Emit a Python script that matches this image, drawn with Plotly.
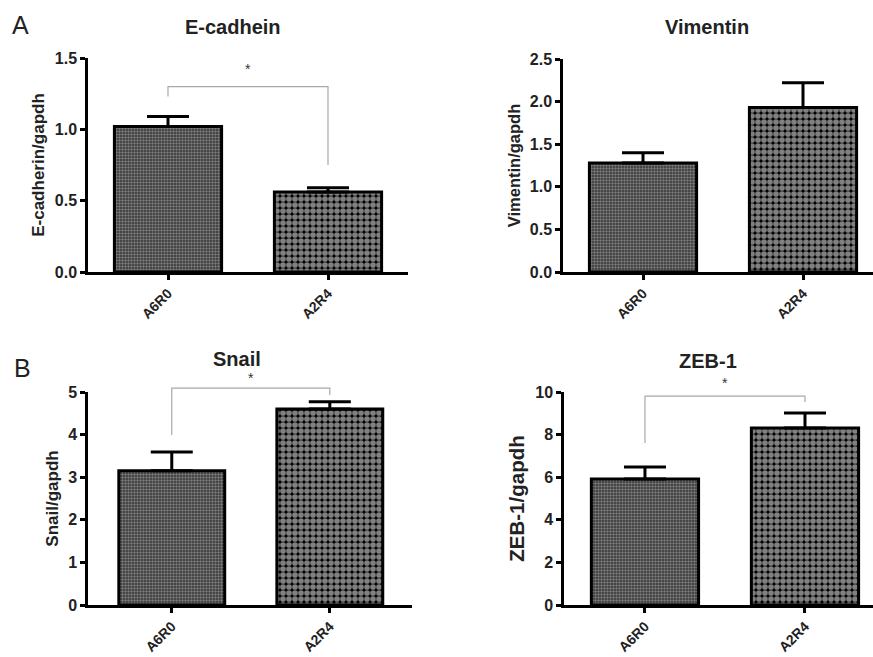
import plotly.graph_objects as go

# ---------------- data ----------------
categories = ["A6R0", "A2R4"]

ecad_mean = [1.02, 0.56]
ecad_err = [0.07, 0.03]
vim_mean = [1.28, 1.93]
vim_err = [0.12, 0.29]
snail_mean = [3.15, 4.60]
snail_err = [0.44, 0.17]
zeb_mean = [5.92, 8.31]
zeb_err = [0.56, 0.70]

ecad_ticks = [0.0, 0.5, 1.0, 1.5]
vim_ticks = [0.0, 0.5, 1.0, 1.5, 2.0, 2.5]
snail_ticks = [0, 1, 2, 3, 4, 5]
zeb_ticks = [0, 2, 4, 6, 8, 10]

# significance brackets: [left leg bottom, bar top, right leg bottom, star level]
ecad_sig = [1.23, 1.30, 0.75, 1.42]
snail_sig = [3.99, 5.09, 4.93, 5.33]
zeb_sig = [7.6, 9.81, 9.53, 10.4]

titles = ["E-cadhein", "Vimentin", "Snail", "ZEB-1"]
ytitles = ["E-cadherin/gapdh", "Vimentin/gapdh", "Snail/gapdh", "ZEB-1/gapdh"]

W, H = 873, 657
FONT = "Liberation Sans, Arial, sans-serif"

panels = [
    dict(mean=ecad_mean, err=ecad_err, ticks=ecad_ticks, sig=ecad_sig, fmt=".1f",
         px=(88, 408), py=(272, 58), xr=(-0.5, 1.5), title_px=(233, 27), yts=17),
    dict(mean=vim_mean, err=vim_err, ticks=vim_ticks, sig=None, fmt=".1f",
         px=(563, 873), py=(272, 59), xr=(-0.5, 1.4375), title_px=(707, 27), yts=16.5),
    dict(mean=snail_mean, err=snail_err, ticks=snail_ticks, sig=snail_sig, fmt="d",
         px=(88, 412), py=(605, 392), xr=(-0.53, 1.52), title_px=(237, 359), yts=17),
    dict(mean=zeb_mean, err=zeb_err, ticks=zeb_ticks, sig=zeb_sig, fmt="d",
         px=(564, 873), py=(605, 392), xr=(-0.506, 1.425), title_px=(708, 361), yts=20.5),
]

EXT = 34  # extra px above the axis top for the hidden overlay axis

fig = go.Figure()
annotations = []
layout = dict(
    width=W, height=H, margin=dict(l=0, r=0, t=0, b=0, autoexpand=False),
    paper_bgcolor="white", plot_bgcolor="rgba(0,0,0,0)", showlegend=False,
    font=dict(family=FONT, color="black"),
)

patterns = [
    dict(shape=".", bgcolor="#333333", fgcolor="#c8c8c8", size=3, solidity=0.5),
    dict(shape=".", bgcolor="#000000", fgcolor="#ffffff", size=6, solidity=0.7),
]

for i, p in enumerate(panels):
    xn = "x" if i == 0 else f"x{i+1}"
    yv = f"y{2*i+1}" if i > 0 else "y"
    yh = f"y{2*i+2}"
    xkey = "xaxis" if i == 0 else f"xaxis{i+1}"
    yvkey = "yaxis" if i == 0 else f"yaxis{2*i+1}"
    yhkey = f"yaxis{2*i+2}"

    x0, x1 = p["px"][0] / W, min(p["px"][1] / W, 1.0)
    yb = 1 - p["py"][0] / H
    yt = 1 - p["py"][1] / H
    yt_ext = 1 - (p["py"][1] - EXT) / H
    ytop = p["ticks"][-1]
    ytop_ext = ytop * (yt_ext - yb) / (yt - yb)

    for j, c in enumerate(categories):
        fig.add_trace(go.Bar(
            x=[j], y=[p["mean"][j]], width=0.67,
            xaxis=xn, yaxis=yv,
            marker=dict(color=patterns[j]["bgcolor"], pattern=patterns[j],
                        line=dict(color="black", width=3)),
            error_y=dict(type="data", array=[p["err"][j]], arrayminus=[0], symmetric=False,
                         color="black", thickness=3, width=21),
            hoverinfo="skip",
        ))

    if p["sig"] is not None:
        s = p["sig"]
        fig.add_trace(go.Scatter(
            x=[0, 0, 1, 1], y=[s[0], s[1], s[1], s[2]],
            mode="lines", line=dict(color="#a8a8a8", width=1.2),
            xaxis=xn, yaxis=yh, hoverinfo="skip",
        ))
        annotations.append(dict(x=0.5, y=s[3], xref=xn, yref=yh, text="*", showarrow=False,
                                font=dict(size=14, color="#333333")))

    layout[xkey] = dict(
        domain=[x0, x1], range=list(p["xr"]), anchor=yv, automargin=False,
        tickmode="array", tickvals=[0, 1], ticktext=categories, tickangle=-45,
        showline=True, linecolor="black", linewidth=2.5,
        ticks="outside", ticklen=5, tickwidth=2.5, tickcolor="black",
        showgrid=False, zeroline=False,
        tickfont=dict(family=FONT, size=14, weight="bold", color="#222"),
    )
    layout[yvkey] = dict(
        domain=[yb, yt], range=[0, ytop], anchor=xn, automargin=False,
        tickmode="array", tickvals=p["ticks"], tickformat=p["fmt"],
        showline=True, linecolor="black", linewidth=2.5,
        ticks="outside", ticklen=5, tickwidth=2.5, tickcolor="black",
        showgrid=False, zeroline=False,
        tickfont=dict(family=FONT, size=16, weight="bold", color="#222"),
        title=dict(text=ytitles[i], font=dict(family=FONT, size=p["yts"], weight="bold", color="#222"),
                   standoff=6),
    )
    layout[yhkey] = dict(
        domain=[yb, yt_ext], range=[0, ytop_ext], anchor=xn, automargin=False,
        visible=False, showgrid=False, zeroline=False,
    )

    annotations.append(dict(
        x=p["title_px"][0] / W, y=1 - p["title_px"][1] / H, xref="paper", yref="paper",
        text=titles[i], showarrow=False, xanchor="center", yanchor="middle",
        font=dict(family=FONT, size=20, weight="bold", color="#222"),
    ))

annotations.append(dict(x=20 / W, y=1 - 25 / H, xref="paper", yref="paper", text="A",
                        showarrow=False, xanchor="center", yanchor="middle",
                        font=dict(family=FONT, size=25, color="#222")))
annotations.append(dict(x=22 / W, y=1 - 368 / H, xref="paper", yref="paper", text="B",
                        showarrow=False, xanchor="center", yanchor="middle",
                        font=dict(family=FONT, size=25, color="#222")))

layout["annotations"] = annotations
fig.update_layout(**layout)
fig.write_html("out.html", config={"displayModeBar": False},
               post_script="document.body.style.margin='0';")
